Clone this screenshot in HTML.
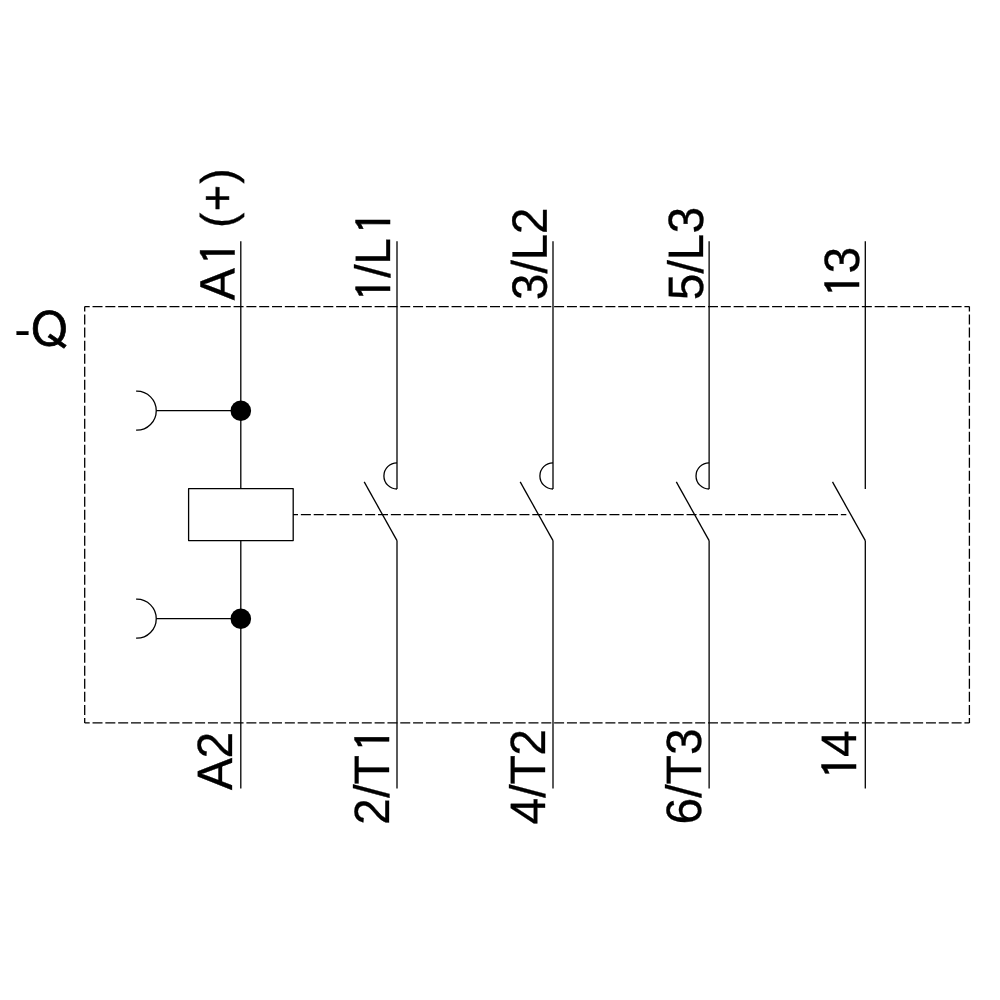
<!DOCTYPE html>
<html><head><meta charset="utf-8"><title>Circuit diagram</title>
<style>
html,body{margin:0;padding:0;background:#fff;}
svg{display:block;filter:grayscale(1);}
text{font-family:"Liberation Sans",Arial,sans-serif;font-size:48px;fill:#000;stroke:#000;stroke-width:0.3px;text-rendering:geometricPrecision;}
.plus{font-size:45px;stroke:#000;stroke-width:0.6px;}
.par{font-size:46px;}
.q{font-family:"IPAPGothic","Liberation Sans",sans-serif;stroke:#000;stroke-width:0.7px;}
.one{font-family:"IPAGothic","Liberation Sans",sans-serif;font-size:47.5px;stroke:#000;stroke-width:0.5px;}
</style></head>
<body>
<svg width="1000" height="1000" viewBox="0 0 1000 1000">
<rect width="1000" height="1000" fill="#fff"/>
<g stroke="#000" stroke-width="1.3" stroke-linecap="butt" stroke-linejoin="round">
<line x1="84.7" y1="306.6" x2="969.4" y2="306.6" stroke-dasharray="10.000 2.822" stroke-dashoffset="5.000"/>
<line x1="84.7" y1="722.9" x2="969.4" y2="722.9" stroke-dasharray="10.000 2.822" stroke-dashoffset="5.000"/>
<line x1="84.7" y1="306.6" x2="84.7" y2="722.9" stroke-dasharray="10.000 3.009" stroke-dashoffset="5.000"/>
<line x1="969.4" y1="306.6" x2="969.4" y2="722.9" stroke-dasharray="10.000 3.009" stroke-dashoffset="5.000"/>
<line x1="240.8" y1="241.2" x2="240.8" y2="488.6" />
<line x1="240.8" y1="540.6" x2="240.8" y2="788.4" />
<rect x="188.6" y="488.6" width="104.6" height="52.0" fill="none"/>
<circle cx="240.8" cy="410.7" r="10.3" fill="#000" stroke="none"/>
<line x1="156.25" y1="410.6" x2="240.8" y2="410.6" />
<path d="M136.1 391.20 L136.75 391.20 A19.5 19.5 0 0 1 136.75 430.20 L136.1 430.20" fill="none"/>
<circle cx="240.8" cy="618.7" r="10.3" fill="#000" stroke="none"/>
<line x1="156.25" y1="618.6" x2="240.8" y2="618.6" />
<path d="M136.1 599.20 L136.75 599.20 A19.5 19.5 0 0 1 136.75 638.20 L136.1 638.20" fill="none"/>
<line x1="397.0" y1="241.2" x2="397.0" y2="489.0" />
<line x1="397.0" y1="788.4" x2="397.0" y2="540.6" />
<line x1="397.0" y1="540.6" x2="364.2" y2="481.9" />
<path d="M397.0 462.8 A13.1 13.1 0 0 0 397.0 489" fill="none"/>
<line x1="553.0" y1="241.2" x2="553.0" y2="489.0" />
<line x1="553.0" y1="788.4" x2="553.0" y2="540.6" />
<line x1="553.0" y1="540.6" x2="520.2" y2="481.9" />
<path d="M553.0 462.8 A13.1 13.1 0 0 0 553.0 489" fill="none"/>
<line x1="709.12" y1="241.2" x2="709.12" y2="489.0" />
<line x1="709.12" y1="788.4" x2="709.12" y2="540.6" />
<line x1="709.12" y1="540.6" x2="676.32" y2="481.9" />
<path d="M709.12 462.8 A13.1 13.1 0 0 0 709.12 489" fill="none"/>
<line x1="865.3" y1="241.2" x2="865.3" y2="489.0" />
<line x1="865.3" y1="788.4" x2="865.3" y2="540.6" />
<line x1="865.3" y1="540.6" x2="832.5" y2="481.9" />
<line x1="293.0" y1="514.7" x2="846.3" y2="514.7" stroke-dasharray="10 2.857" stroke-dashoffset="5"/>
</g>
<g>
<text transform="translate(234.5 300.2) rotate(-89.95) scale(1 1.035)" x="0.00 35.22 58.71 72.15 88.90 116.56" y="0 2.41 0 -0.4 -1.5 -0.4">A<tspan class="one">1</tspan> <tspan class="par">(</tspan><tspan class="plus">+</tspan><tspan class="par">)</tspan></text>
<text transform="translate(390.0 304.4) rotate(-89.95) scale(1 1.035)" x="3.20 26.70 39.58 69.93" y="2.41 0 0 2.41"><tspan class="one">1</tspan>/L<tspan class="one">1</tspan></text>
<text transform="translate(546.8 300.2) rotate(-89.95) scale(1 1.035)" x="0.00 26.70 39.58 66.03" y="0 0 0 0">3/L2</text>
<text transform="translate(703 300.2) rotate(-89.95) scale(1 1.035)" x="0.00 26.70 39.58 66.73" y="0 0 0 0">5/L3</text>
<text transform="translate(859 300.2) rotate(-89.95) scale(1 1.035)" x="3.20 26.70" y="2.41 0"><tspan class="one">1</tspan>3</text>
<text transform="translate(232.0 789.9) rotate(-89.95) scale(1 1.035)" x="0.00 31.32" y="0 0">A2</text>
<text transform="translate(388.9 824.4) rotate(-89.95) scale(1 1.035)" x="-0.70 26.70 40.03 72.55" y="0 0 0 2.41">2/T<tspan class="one">1</tspan></text>
<text transform="translate(544.9 824.4) rotate(-89.95) scale(1 1.035)" x="0.00 26.70 40.03 68.65" y="0 0 0 0">4/T2</text>
<text transform="translate(701.0 824.4) rotate(-89.95) scale(1 1.035)" x="0.00 26.70 40.03 69.35" y="0 0 0 0">6/T3</text>
<text transform="translate(856.0 783.8) rotate(-89.95) scale(1 1.035)" x="4.70 26.70" y="2.41 0"><tspan class="one">1</tspan>4</text>
<text transform="translate(14 346) rotate(0.05)" x="0.6 16.2" y="-0.2 0">-<tspan class="q">Q</tspan></text>
</g>
</svg>
</body></html>
